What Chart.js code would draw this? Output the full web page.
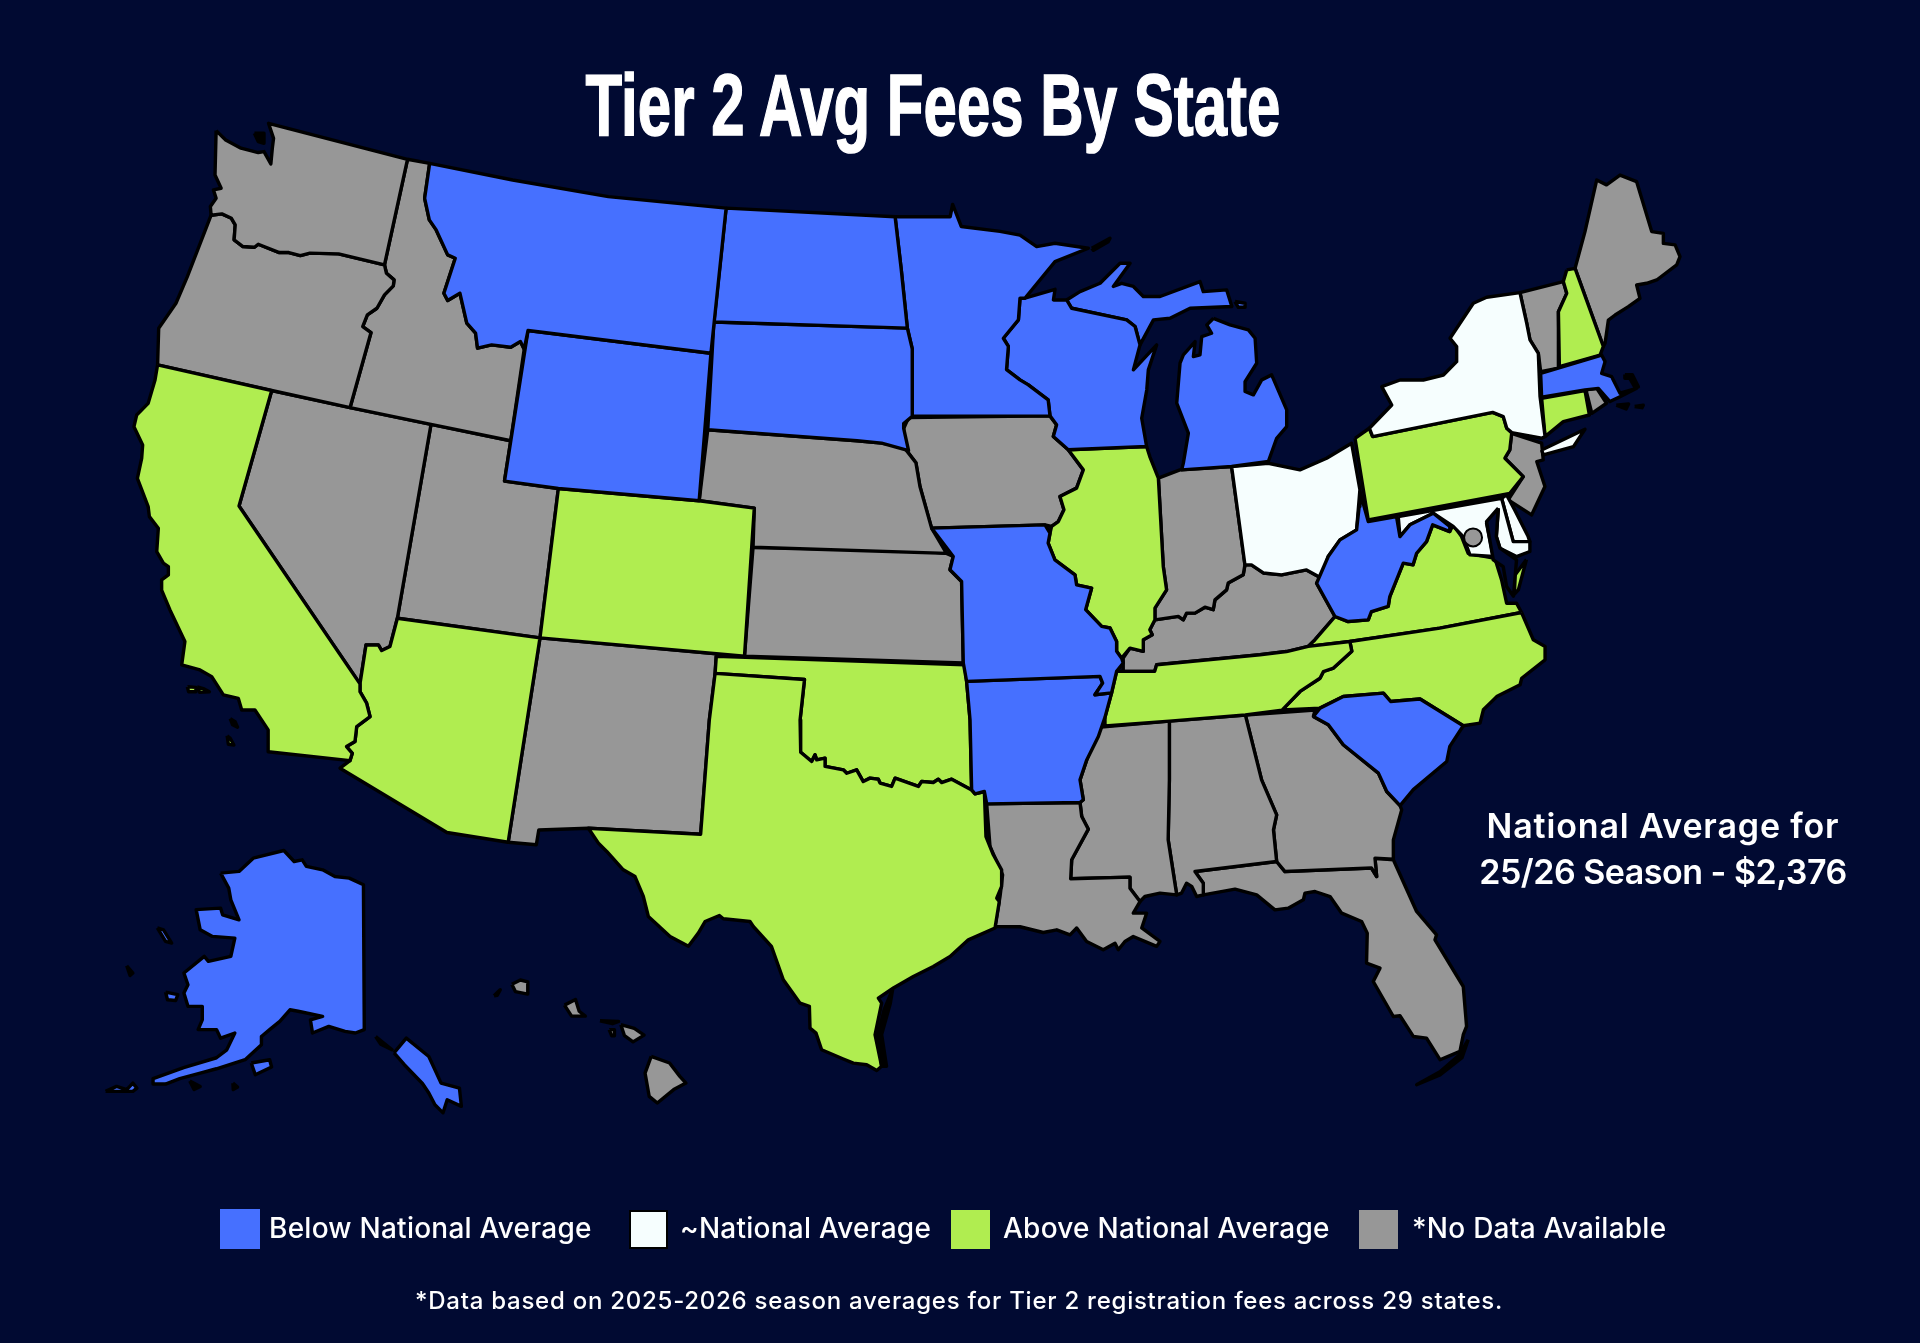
<!DOCTYPE html>
<html>
<head>
<meta charset="utf-8">
<title>Tier 2 Avg Fees By State</title>
<script src="https://cdn.jsdelivr.net/npm/chart.js@4/dist/chart.umd.min.js"></script>
<style>
  html, body { margin: 0; padding: 0; background: #010a32; }
  #wrap { position: relative; width: 1920px; height: 1343px; overflow: hidden; color: #fff; font-family: Inter, sans-serif; }
  #map { position: absolute; left: 0; top: 0; }
  #title { position: absolute; left: 0; width: 1866px; top: 54px; margin: 0; text-align: center; font: bold 88px "Liberation Sans Narrow", sans-serif; -webkit-text-stroke: 1.5px #fff; transform: scaleX(0.682); transform-origin: 933px 0; white-space: nowrap; }
  #note { position: absolute; left: 1413px; width: 500px; top: 803px; text-align: center; font-size: 34px; font-weight: 600; letter-spacing: 0.85px; line-height: 46px; }
  #note span { display: block; }
  #note span + span { letter-spacing: -0.5px; }
  .swatch { position: absolute; box-sizing: border-box; }
  .label { position: absolute; top: 1210px; font-size: 28px; font-weight: 500; letter-spacing: 0.25px; line-height: 36px; white-space: nowrap; }
  #foot { position: absolute; left: 0; width: 1918px; top: 1285px; text-align: center; font-size: 24px; font-weight: 500; letter-spacing: 0.75px; line-height: 32px; }
</style>
</head>
<body>
<div id="wrap">
  <canvas id="map" width="1920" height="1343"></canvas>
  <h1 id="title"></h1>
  <div id="note"></div>
  <div id="legend"></div>
  <div id="foot"></div>
</div>
<script>
// texts
const chartTitle = 'Tier 2 Avg Fees By State';
const noteLines = ['National Average for', '25/26 Season - $2,376'];
const legendLabels = ['Below National Average', '~National Average', 'Above National Average', '*No Data Available'];
const footNote = '*Data based on 2025-2026 season averages for Tier 2 registration fees across 29 states.';

// state outlines (map units, 1568 x 1097)
const WA = [[176.5,106.7],[184.3,114.3],[196.8,121],[210.9,124.6],[215.6,123.8],[221.2,133.9],[222.4,121.1],[223.4,113],[219.3,100.7],[332.8,130.1],[314,216.4],[276.5,207.4],[253.1,206.8],[245.3,208.8],[235.9,206.3],[228.1,206.3],[210.9,199.5],[207.8,202],[198.4,201.4],[191.2,196],[192.1,183.7],[189,178.3],[181.2,174.7],[172.4,175.8],[171.8,168.7],[176.5,161.9],[174.3,155.1],[180.6,153.8],[175.6,142.9]];
const OR = [[172.4,175.8],[181.2,174.7],[189,178.3],[192.1,183.7],[191.2,196],[198.4,201.4],[207.8,202],[210.9,199.5],[228.1,206.3],[235.9,206.3],[245.3,208.8],[253.1,206.8],[276.5,207.4],[314,216.4],[315.6,223.2],[321.8,228.6],[321.2,233.5],[314,240.9],[307.8,251.8],[300,257.2],[296.2,266.7],[303,271.6],[285.9,332.9],[221.9,319],[128.7,298],[129.6,268.1],[143.7,247.7],[153,225.9]];
const ID = [[332.8,130.1],[350.9,133.4],[346.8,162],[350.6,179.6],[356.2,187.8],[365.6,208.2],[371.8,210.9],[362.5,239.5],[365.6,245.5],[375.6,239.5],[381.2,264],[388.4,272.2],[390,284.4],[401.5,281.7],[417.1,283.6],[425,279],[428.1,285.2],[417.1,360],[352,346.6],[285.9,332.9],[303,271.6],[296.2,266.7],[300,257.2],[307.8,251.8],[314,240.9],[321.2,233.5],[321.8,228.6],[315.6,223.2],[314,216.4]];
const MT = [[350.9,133.4],[418.7,147],[496.8,160.6],[593,170],[580.6,288.5],[431.2,270],[428.1,285.2],[425,279],[417.1,283.6],[401.5,281.7],[390,284.4],[388.4,272.2],[381.2,264],[375.6,239.5],[365.6,245.5],[362.5,239.5],[371.8,210.9],[365.6,208.2],[356.2,187.8],[350.6,179.6],[346.8,162]];
const WY = [[431.2,270],[580.6,288.5],[571,409],[456,399],[412,393]];
const ND = [[593,170],[731,177],[736,220],[741,268],[583,263]];
const SD = [[583,263],[741,268],[745,285],[745,340],[738,346],[738,350],[742,368],[720,362],[700,360],[578,351]];
const MN = [[731,177],[776,177],[778,167],[785,185],[816.7,189],[833,192],[846.6,201.4],[861.6,198.7],[888.8,202.8],[861.6,213.7],[837,243.6],[833,243.6],[831.7,261.3],[819.4,276.3],[823.5,283],[822,302],[833,310.3],[839.8,314.4],[856,326.6],[857.5,339.7],[745,340],[745,285],[741,268],[736,220]];
const WI = [[833,243.6],[837,243.6],[861.6,236.3],[860.3,245],[871.1,245],[875.2,251.8],[920.1,261.3],[927,266.7],[931,281.7],[925.6,302.1],[944.6,281.7],[937.8,302.1],[936.5,318.5],[932.4,341.6],[936.4,364.7],[872.4,367.4],[860.2,356.5],[862.9,347],[857.5,339.7],[856,326.6],[839.8,314.4],[833,310.3],[822,302],[823.5,283],[819.4,276.3],[831.7,261.3]];
const MI_UPPER = [[871.1,245],[882,238.2],[898.4,231.4],[914.7,215],[922.9,215],[909.2,234],[916,231.4],[925.6,234],[933.7,242.2],[947.4,242.2],[980,230],[982.7,238.2],[1001.8,236.8],[1006,250.4],[971.9,251.8],[955.5,260],[942,261.3],[931,281.7],[927,266.7],[920.1,261.3],[875.2,251.8]];
const MI_LOWER = [[991,260],[985.5,265.4],[989.5,272.2],[981.4,274.9],[980,289.9],[974.6,291.2],[976,279],[966.4,289.9],[963.7,296.7],[961,329.3],[970.5,353.8],[966.4,378.3],[965,383.8],[1005.8,381],[1035.8,377],[1042.6,358],[1050.8,348.4],[1050.8,334.8],[1038.5,306.2],[1030.4,310.3],[1023.6,322.5],[1016.8,319.8],[1016.8,311.7],[1026.3,296.7],[1025,276.3],[1019.5,269.5],[1004.5,265.4]];
const MI_ISLE = [[1008.6,246.3],[1016.8,247.7],[1016.8,251],[1011.3,251]];
const MI_ROYALE = [[891.6,202.8],[906.5,194.6],[905,197.5],[893,204.5]];
const IL = [[872.4,367.4],[936.4,364.7],[939,372.9],[946,390.6],[950,462.7],[952.7,481.8],[943.2,496.7],[943.2,506.3],[939,514.4],[941,518.5],[933.7,522.6],[933.7,532],[922.8,529.4],[916,537.6],[911.9,532],[911.9,524],[906.5,513],[899.7,511.7],[886.6,498],[891.5,480.4],[879.2,477.7],[877.9,469.5],[861.5,457.3],[856,443.6],[857.5,435.5],[858.8,430],[864.3,426],[868.9,416.4],[865.6,405.5],[879.2,398.7],[884.7,383.8]];
const IA = [[742,341],[857.5,339.7],[862.9,347],[860.2,356.5],[872.4,367.4],[884.7,383.8],[879.2,398.7],[865.6,405.5],[868.9,416.4],[864.3,426],[858.8,430],[853.4,428.7],[760.8,431.4],[751.3,397.4],[748,378],[738,365],[738,350]];
const MO = [[760.8,431.4],[853.4,428.7],[857.5,435.5],[856,443.6],[861.5,457.3],[877.9,469.5],[879.2,477.7],[891.5,480.4],[886.6,498],[899.7,511.7],[906.5,513],[911.9,524],[911.9,532],[916,537.6],[917.3,541.6],[911.9,548.4],[907.8,566],[894.2,567.5],[900.5,558],[898.3,552.5],[789.4,556.6],[786.7,541.6],[785.3,475],[775.8,465.4],[778.5,454.5]];
const AR = [[789.4,556.6],[898.3,552.5],[900.5,558],[894.2,567.5],[907.8,566],[902.4,586],[897,601.6],[887.5,620.7],[882,637],[884.7,653.3],[882,655.5],[805.8,656.6],[803.9,646.5],[796.3,648.4],[793.5,645.2],[792.2,588]];
const LA = [[805.8,656.6],[882,655.5],[883.4,667],[888.8,677.3],[875.2,702.3],[874.4,717.8],[922.8,716.5],[922.8,725.5],[931,736.4],[925.5,745.9],[936.4,745.9],[932.4,758],[947.3,769],[944.6,773],[925.5,765],[918.7,769],[913.3,775.8],[910.6,770.4],[901,775.8],[887.4,769],[879.3,758],[873.8,763.6],[863,759.5],[852,761.7],[833,757],[812.6,756.8],[816.7,732.3],[818.8,714.6],[808.5,691.4]];
const MS = [[897,594],[955,589],[955,637],[954,686],[961,731],[947.3,729.5],[935,732.3],[931,736.4],[922.8,725.5],[922.8,716.5],[874.4,717.8],[875.2,702.3],[888.8,677.3],[883.4,667],[882,655.5],[884.7,653.3],[882,637],[887.5,620.7]];
const AL = [[955,589],[1017,584],[1030.3,637],[1042.6,665.6],[1040,677.8],[1042.6,703.7],[975.9,711.9],[982.7,721.4],[982.7,731],[977.3,732.3],[973.2,724],[969,721.4],[965,729.5],[961,731],[954,686],[955,637]];
const GA = [[1017,584],[1074,580],[1072.6,585.2],[1084.8,592],[1097,608.3],[1125.7,631.5],[1132.5,646.5],[1143.4,658],[1144.7,661.5],[1137.9,686],[1137.9,701.8],[1122.9,701],[1124.3,716],[1120,709],[1049.4,711.9],[1042.6,703.7],[1040,677.8],[1042.6,665.6],[1030.3,637]];
const FL = [[975.9,711.9],[1042.6,703.7],[1049.4,711.9],[1120,709],[1124.3,716],[1122.9,701],[1137.9,702.3],[1156.9,744.5],[1173.2,763.6],[1171.9,767.7],[1195,805.8],[1197.7,838.4],[1195,845.2],[1192.3,858.8],[1176,865.6],[1165,848],[1154.2,846.6],[1143.3,829.7],[1137.9,830.3],[1121.5,801.7],[1127,790.8],[1116,786.7],[1116.6,762.2],[1112,752.7],[1095.7,745.9],[1086.2,732.3],[1073.9,728.2],[1065.7,729.5],[1064.4,735],[1052,741.8],[1041.2,743.2],[1026.3,731],[1008.6,726.3],[982.7,731],[982.7,721.4]];
const SC = [[1072.6,585.2],[1078,578.4],[1097,568.9],[1129.8,566.2],[1135.7,573],[1159.7,571],[1195,592.8],[1184,609.7],[1181.5,622],[1154.2,645],[1143.4,658],[1132.5,646.5],[1125.7,631.5],[1097,608.3],[1084.8,592]];
const NC = [[1242.6,500.3],[1252.2,522.6],[1261.8,528],[1261.8,539],[1242.7,554],[1241.4,559.3],[1222.3,569],[1211.4,579.8],[1208.7,590.7],[1195,592.8],[1159.7,571],[1135.7,573],[1129.8,566.2],[1097,568.9],[1078,578.4],[1047,580],[1061.7,564.8],[1078,554],[1080.8,548.5],[1089,545.7],[1104,532],[1102.4,524],[1175.9,513.1]];
const VA = [[1242.6,500.3],[1175.9,513.1],[1102.4,524],[1068.4,528],[1073.8,522.7],[1090.2,503.6],[1101,507.7],[1117.4,506.3],[1120,499.5],[1133.7,495.4],[1135,487.3],[1146,460],[1154,461.4],[1156.9,451.9],[1165,442.4],[1170,428.7],[1184,434.2],[1186.8,428.7],[1193.6,438.3],[1199,452],[1220.8,456],[1226.3,473.7],[1230.4,492.7],[1238.5,492.7]];
const VA_SHORE = [[1246.6,457],[1240,481.8],[1237,485],[1237,470]];
const WV = [[1110.6,401.5],[1117.4,426],[1140.5,422],[1143.3,438.3],[1151.4,428.7],[1170.5,419.2],[1184,430],[1184,434.2],[1170,428.7],[1165,442.4],[1156.9,451.9],[1154,461.4],[1146,460],[1135,487.3],[1133.7,495.4],[1120,499.5],[1117.4,506.3],[1101,507.7],[1090.2,503.6],[1075.2,476.4],[1084.7,454.6],[1094.3,441],[1107.9,432.8],[1110,413.8]];
const OH = [[1005.8,381],[1035.7,378.4],[1061.6,383.8],[1083.4,374.3],[1103.8,362],[1110.6,400],[1107.9,432.8],[1094.3,441],[1084.7,454.6],[1079.3,472.3],[1067,465.5],[1046.6,469.6],[1031.7,468],[1022,461.4],[1016.7,461.4]];
const IN = [[946,390.6],[963.6,383.8],[1005.8,381],[1016.7,461.4],[1015.3,469.5],[1003,476.3],[1001.7,481.8],[992.2,490],[990.8,498],[984,496],[975.9,500.8],[969,500.8],[966.4,506.3],[962.3,503.5],[943.2,506.3],[943.2,496.7],[952.7,481.8],[950,462.7]];
const KY = [[917.3,548.4],[917.3,537.6],[922.8,529.4],[933.7,532],[933.7,522.6],[941,518.5],[939,514.4],[943.2,506.3],[962.3,503.5],[966.4,506.3],[969,500.8],[975.9,500.8],[984,496],[990.8,498],[992.2,490],[1001.7,481.8],[1003,476.3],[1015.3,469.5],[1016.7,461.4],[1022,461.4],[1031.7,468],[1046.6,469.6],[1067,465.5],[1079.3,472.3],[1075.2,476.4],[1090.2,503.6],[1073.8,522.7],[1068.4,528],[1050.7,532.2],[1029,534.8],[944.6,543],[943,548.4]];
const TN = [[911.9,548.4],[943,548.4],[944.6,543],[1029,534.8],[1050.7,532.2],[1068.4,528],[1102.4,524],[1104,532],[1089,545.7],[1080.8,548.5],[1078,554],[1061.7,564.8],[1047,580],[1017,584],[955,589],[902.4,593],[902.4,586],[907.8,566]];
const PA = [[1106.6,358],[1118.3,349.8],[1121,356.6],[1219,336.8],[1227.7,340.3],[1230.5,349.8],[1234.6,353.4],[1233,367.5],[1229,374.3],[1244,389.3],[1233,403],[1117.4,424.7]];
const NY = [[1121,356.6],[1118.3,349.8],[1136.6,330.8],[1128.4,315.8],[1143.4,310.4],[1162.4,310.4],[1178.8,306.3],[1189.6,295.4],[1189.6,283],[1184.2,276.3],[1203.2,247.7],[1214.1,242.8],[1241.3,239],[1246.8,264],[1249.5,277.7],[1256.3,288.6],[1257.7,324],[1261.8,356.6],[1259,358],[1234.6,353.4],[1230.5,349.8],[1227.7,340.3],[1219,336.8]];
const LONG_ISLAND = [[1259,367.5],[1294.4,350.6],[1285,364.8],[1260.4,371.6]];
const VT = [[1241.3,239],[1276.7,230],[1279.5,239.6],[1272.7,254.6],[1272.7,300.8],[1258.2,303.5],[1256.3,288.6],[1249.5,277.7],[1246.8,264]];
const NH = [[1279.5,220.5],[1286.3,219.2],[1309.4,283],[1306.7,290],[1273.5,299.5],[1272.7,254.6],[1279.5,239.6],[1276.7,230]];
const ME = [[1286.3,219.2],[1294.4,189.2],[1304,147],[1312,151],[1323,143],[1336.6,148.4],[1348.9,189.2],[1358.4,190.6],[1358.4,198.8],[1368,200],[1372,209.6],[1369.3,216.4],[1353,228.7],[1344.8,231.4],[1336.6,232.8],[1339.3,243.7],[1329.8,250.5],[1319,257.3],[1313.5,261.4],[1310.8,280.4],[1309.4,283]];
const MA = [[1258.2,305],[1308,290],[1310.8,295.4],[1308,305],[1316.2,307.7],[1323,321.2],[1336.6,317.2],[1323,324],[1314.8,328],[1305.3,317.2],[1294.4,318.5],[1259,324.5]];
const CT = [[1259,325.3],[1294.4,319],[1298,339],[1276.7,344.4],[1261.8,356.6]];
const RI = [[1295.2,318.5],[1304,317.2],[1312,329.4],[1300,337.6]];
const NJ = [[1234.4,353.9],[1259,362],[1260.3,375.7],[1255,377],[1261.7,397.4],[1250.8,420.6],[1231.7,408.3],[1244,389.3],[1229,374.3],[1233,367.5]];
const MD = [[1141.9,422],[1226.3,407],[1235.8,442.4],[1249.4,442.4],[1249.4,450.5],[1238.5,454.6],[1225,447.8],[1222,438.3],[1223.6,416.5],[1214,427.4],[1219.5,454.6],[1200.4,453.2],[1195,438.3],[1186.8,430],[1170.5,419.2],[1151.4,428.7],[1143.3,438.3]];
const DE = [[1226.3,407],[1230.4,404.2],[1237,416.5],[1248,438.3],[1249.4,442.4],[1235.8,442.4]];
const CA = [[128.7,298],[221.9,319],[195.2,413.3],[294,558.6],[294,565],[299.4,574.4],[302.2,585.3],[291.3,593.5],[289.9,605.7],[283,609.8],[287.7,615.3],[285.8,621.3],[219,614],[219,596.2],[208.2,579.9],[197.4,579.9],[194.6,570.4],[182.4,567.6],[172.9,552.7],[163.3,547.2],[148.4,543],[151,524],[138.8,498.2],[132,482],[132,473.7],[137.5,469.6],[137.5,462.8],[133.4,460],[128,450.6],[129.3,431.5],[122,422],[121,413.8],[112.2,390.7],[115.7,374.4],[116.5,363.5],[109.4,348.5],[111.6,339],[121,329.5],[126.6,310.4]];
const CA_ISLE_A = [[153,561],[160,561.5],[160,565],[154,565]];
const CA_ISLE_B = [[161,561],[166,562.5],[171,565],[163,565.5]];
const CA_ISLE_C = [[188,587],[192,589.5],[194,594],[190,592]];
const CA_ISLE_D = [[185.5,601],[188,603],[191,608.5],[186.5,608]];
const NV = [[221.9,319],[285.9,332.9],[352,346.6],[324.5,505],[318.5,528],[311.7,531.4],[309,526.8],[298.9,526.8],[294,558.6],[195.2,413.3]];
const UT = [[352,346.6],[417.1,360],[412,393],[456,399],[441,521],[324.5,505]];
const CO = [[456,399],[571,409],[616,415],[608,536],[441,521]];
const AZ = [[324.5,505],[441,521],[415,688],[365,680],[277.7,627.5],[285.8,621.3],[287.7,615.3],[283,609.8],[289.9,605.7],[291.3,593.5],[302.2,585.3],[299.4,574.4],[294,565],[294,558.6],[298.9,526.8],[309,526.8],[311.7,531.4],[318.5,528]];
const NM = [[441,521],[585,534],[584,550],[579.3,588],[572.2,681.4],[480.5,676.5],[440,678],[438,690],[415,688]];
const TX = [[584,550],[657,555],[653.4,588],[653.9,614.4],[662.9,622],[665.6,616.6],[667,620.7],[673.8,619.3],[673.8,626],[688.7,628.8],[691.5,631.6],[699.6,628.8],[705,638.4],[710.5,635.6],[717.3,636.5],[718.7,639.7],[728.2,642.4],[731,635.6],[750,642.4],[752.7,638.4],[762.2,639.2],[766.3,636.5],[769,639.2],[777.2,636.5],[793.5,645.2],[796.3,648.4],[803.9,646.5],[805.2,683.3],[811.2,698.2],[818,710.5],[818,724],[814,733.6],[816.1,736.3],[812.6,758],[790.8,767.7],[775.9,781.3],[762.2,789.4],[745.9,797.6],[729.6,807],[717.3,815.3],[720,819.4],[714.6,845.2],[720,871],[716,874.4],[707.8,869.7],[696.9,868.4],[688.7,865],[671,857.5],[666.4,843.9],[661.5,839.8],[661,822],[653.4,819.4],[639.7,800.3],[630,773],[615.2,756.8],[612.5,752.7],[590.7,750.5],[587.5,747.8],[575.8,752.7],[570.3,762.2],[562.2,773],[547.2,765],[529.5,748.6],[525.4,732.3],[518.6,716],[509,710.5],[495.5,695.5],[488.7,688.7],[480.5,676.5],[572.2,681.4],[579.3,588]];
const OK = [[585,536],[787.8,543],[789.4,556.6],[792.2,588],[793.5,645.2],[777.2,636.5],[769,639.2],[766.3,636.5],[762.2,639.2],[752.7,638.4],[750,642.4],[731,635.6],[728.2,642.4],[718.7,639.7],[717.3,636.5],[710.5,635.6],[705,638.4],[699.6,628.8],[691.5,631.6],[688.7,628.8],[673.8,626],[673.8,619.3],[667,620.7],[665.6,616.6],[662.9,622],[653.9,614.4],[653.4,588],[657,555],[584,550]];
const KS = [[615,447],[751.3,450],[773,452],[778.5,454.5],[775.8,465.4],[785.3,475],[786.7,541.6],[608,536]];
const NE = [[578,351],[700,360],[720,362],[738,365],[748,378],[751.3,397.4],[760.8,431.4],[773,452],[615,447],[616,415],[571,409]];
const AK = [[180.2,713.2],[195.2,711.8],[206.8,701],[231.8,694.7],[240.2,703.7],[246.8,702.3],[250.2,707.7],[263.5,710.5],[273.5,716],[285.2,717.3],[296.8,722.7],[297.5,841],[290.2,843.8],[281.8,842.5],[268.5,838.4],[255.2,843.8],[253.5,833],[263.5,830.2],[243.5,826],[236.8,824.8],[228.5,834.3],[220.2,841],[213.5,846.6],[213.5,853.4],[200.2,865.6],[176.8,873],[163.5,876.5],[146.8,881],[135.2,885.5],[125,885.5],[125,881],[150,872],[176.8,864],[185.2,857.5],[191.8,843.8],[180.2,848],[176.8,841],[161.8,841],[165.2,833],[165.2,822],[153.5,822],[150.2,811.2],[153.5,804.4],[150.2,794.8],[166.8,781.2],[170.2,785.3],[188.5,781.2],[191.8,766.3],[173.5,764.9],[163.5,759.5],[160.2,743],[180.2,741.8],[181.8,747.2],[195.2,751.3],[188.5,735],[186.8,725.4]];
const AK_NECK = [[306.8,846.6],[320.2,857.5],[311,853]];
const AK_PANHANDLE = [[321.8,860],[331.8,848],[350.2,863],[360.2,884.7],[375.2,888.8],[376.8,903.7],[365.2,898.3],[361.8,909],[355.2,902.4],[350.2,892.8],[345,885],[330.2,869.7]];
const AK_KODIAK = [[205.2,868.3],[220.2,865.6],[221.8,871.6],[208.5,877.9]];
const AK_NUNIVAK = [[135.2,810.4],[145.2,812.5],[143.5,817.2],[136.8,816.6]];
const AK_LAWRENCE = [[128.5,758],[133.5,759.5],[140.2,770.3],[135.2,769]];
const AK_ALEUT = [[86.2,891.5],[95.2,887.4],[103.5,890],[108.5,884.7],[111.8,888.8],[108.5,891.5]];
const HI_BIG = [[531.8,862.9],[546.8,868.3],[555.2,879.2],[560.2,884.7],[550.2,890],[536.8,901],[530.2,895.6],[526.8,876.5]];
const HI_MAUI = [[507,837],[518,840],[526,845.5],[517,851],[510,846]];
const HI_OAHU = [[461,821],[470,816.5],[473,826],[478,830],[466.8,830]];
const HI_KAUAI = [[418,804],[425,800.5],[431,802],[431,812],[421,810]];
const HI_MOLOKAI = [[490,833.8],[505.2,834.3],[500.2,836.2]];
const HI_LANAI = [[497.5,841],[501.8,841],[501.8,846],[499.5,846]];
const CHESAPEAKE = [[1223.6,415],[1214,426],[1219.5,457.3],[1227.6,462.8],[1230.4,479],[1236,487],[1238.5,457.3],[1225,447.8],[1222,438.3]];
const DC = [[1203,439]];

// thin black bits of coast: sounds, keys and sand bars
const PUGET = [[207.8,108.9],[215.6,108.9],[215.6,117],[210.9,115.7]];
const CAPE_COD = [[1327,306],[1333,306],[1338,316],[1335,316],[1331,309],[1327,309]];
const NANTUCKET = [[1320,331],[1330,330],[1328,334]];
const VINEYARD = [[1335,332],[1342,331],[1341,333]];
const FL_KEYS = [[1199,849.3],[1194,864],[1176,878],[1156.9,886],[1176,875.5],[1191.5,862]];
const PADRE = [[729,808],[722,825],[717,845],[720,871],[724,871],[720,845],[727,820]];
const AK_DOT_A = [[103.5,788.9],[108.5,794.8],[106.2,796.8]];
const AK_DOT_B = [[190.2,884.7],[194,888],[190.5,890]];
const AK_DOT_C = [[155,883],[163.5,887.4],[158.5,890]];
const HI_NIIHAU = [[403.5,813.4],[408.5,808.5],[406,813]];

// which state goes in which fee group
const belowAverage = [MT, WY, ND, SD, MN, WI, MI_UPPER, MI_LOWER, MI_ISLE, MI_ROYALE, MO, AR, SC, WV, MA, AK, AK_NECK, AK_PANHANDLE, AK_KODIAK, AK_NUNIVAK, AK_LAWRENCE, AK_ALEUT];
const nearAverage = [NY, LONG_ISLAND, OH, MD, DE];
const aboveAverage = [CA, CA_ISLE_A, CA_ISLE_B, CA_ISLE_C, CA_ISLE_D, AZ, CO, TX, OK, IL, TN, NC, VA, VA_SHORE, PA, CT, NH];
const noData = [WA, OR, ID, NV, UT, NM, NE, KS, IA, LA, MS, AL, GA, FL, IN, KY, NJ, VT, ME, RI, HI_BIG, HI_MAUI, HI_OAHU, HI_KAUAI, HI_MOLOKAI, HI_LANAI];
const blackCoast = [PUGET, CAPE_COD, NANTUCKET, VINEYARD, FL_KEYS, PADRE, AK_DOT_A, AK_DOT_B, AK_DOT_C, HI_NIIHAU];

const BG = '#010a32';
const COLORS = ['#4670ff', '#f6fefe', '#b0ed50', '#979797'];
const SWATCHES = [[220, 40], [629, 39], [951, 39], [1359, 39]];
const LABEL_X = [269, 680, 1003, 1412];

function shape(outline, color) {
  var pts = outline.concat([outline[0]]).map(function (p) { return { x: p[0], y: p[1] }; });
  return {
    data: pts,
    showLine: true,
    fill: 'shape',
    backgroundColor: color,
    borderColor: '#000',
    borderWidth: 3.4,
    borderJoinStyle: 'round',
    pointRadius: 0,
    tension: 0
  };
}

var groups = [belowAverage, nearAverage, aboveAverage, noData];
// first dataset is painted last, so the DC dot and the bay sit on top
var datasets = [{
  data: DC.map(function (p) { return { x: p[0], y: p[1] }; }),
  pointRadius: 9,
  pointBackgroundColor: COLORS[3],
  pointBorderColor: '#000',
  pointBorderWidth: 2
}];
datasets.push(shape(CHESAPEAKE, BG));
blackCoast.forEach(function (outline) { datasets.push(shape(outline, '#000')); });
groups.forEach(function (g, i) {
  g.forEach(function (outline) { datasets.push(shape(outline, COLORS[i])); });
});

new Chart(document.getElementById('map'), {
  type: 'scatter',
  data: { datasets: datasets },
  options: {
    responsive: false,
    animation: false,
    events: [],
    layout: { padding: 0, autoPadding: false },
    plugins: { legend: { display: false }, tooltip: { enabled: false } },
    scales: {
      x: { type: 'linear', min: 0, max: 1568, display: false },
      y: { type: 'linear', min: 0, max: 1097, reverse: true, display: false }
    }
  }
});

// text around the map
document.getElementById('title').textContent = chartTitle;
var note = document.getElementById('note');
noteLines.forEach(function (line) {
  var span = document.createElement('span');
  span.textContent = line;
  note.appendChild(span);
});
document.getElementById('foot').textContent = footNote;
var legend = document.getElementById('legend');
legendLabels.forEach(function (text, i) {
  var box = document.createElement('div');
  box.className = 'swatch';
  box.style.cssText = 'left:' + SWATCHES[i][0] + 'px;top:' + (1229 - SWATCHES[i][1] / 2) + 'px;width:' + SWATCHES[i][1] + 'px;height:' + SWATCHES[i][1] + 'px;background:' + COLORS[i] + (i === 1 ? ';border:2px solid #000' : '');
  legend.appendChild(box);
  var lab = document.createElement('div');
  lab.className = 'label';
  lab.style.left = LABEL_X[i] + 'px';
  lab.textContent = text;
  legend.appendChild(lab);
});
</script>
</body>
</html>
